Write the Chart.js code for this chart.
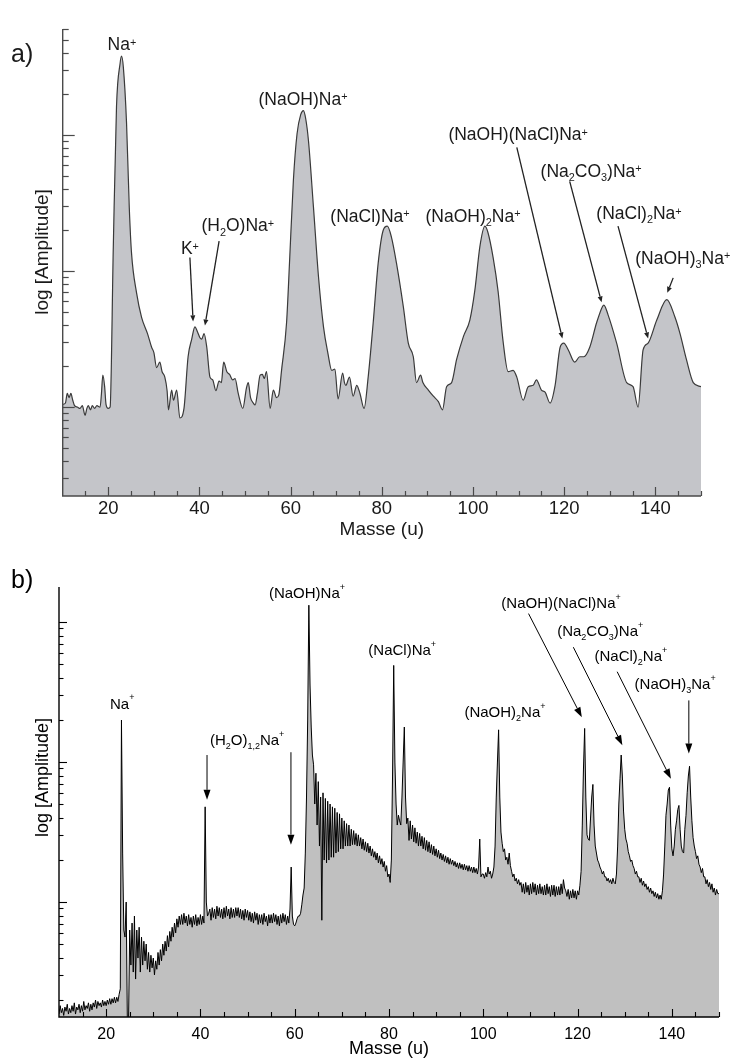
<!DOCTYPE html>
<html>
<head>
<meta charset="utf-8">
<script src="https://cdn.jsdelivr.net/npm/chart.js@4.4.1/dist/chart.umd.min.js"></script>
<style>
  html, body { margin: 0; padding: 0; background: #fff; }
  #wrap { position: relative; width: 737px; height: 1059px; }
  .panel { position: absolute; left: 0; width: 737px; }
  #pa { top: 0; height: 545px; }
  #pb { top: 545px; height: 514px; }
</style>
</head>
<body>
<div id="wrap">
  <div class="panel" id="pa"><canvas id="chartA" width="737" height="545"></canvas></div>
  <div class="panel" id="pb"><canvas id="chartB" width="737" height="514"></canvas></div>
</div>
<script>
// ---------- data ----------
// (a) smoothed mass spectrum: [mass (u), log10 amplitude]
const spectrumA = [
  [10.0,0.02],[10.6,0.03],[11.0,0.10],[11.4,0.07],[11.8,0.10],[12.2,0.05],[12.6,0.01],[13.2,0.00],
  [13.8,-0.01],[14.3,0.01],[14.9,-0.06],[15.3,-0.01],[15.6,0.01],[16.1,-0.02],[16.5,0.01],[17.0,-0.01],
  [17.5,0.01],[18.2,0.00],[18.5,0.10],[18.8,0.235],[19.2,0.15],[19.5,0.02],[20.0,-0.01],[20.4,0.00],
  [21.1,1.18],[21.8,2.21],[22.6,2.53],[22.9,2.58],[23.3,2.50],[24.0,2.09],[24.6,1.47],[25.1,1.13],
  [26.2,0.84],[27.3,0.66],[28.6,0.54],[29.5,0.44],[30.0,0.40],[30.6,0.29],[31.3,0.33],[31.8,0.26],
  [32.4,0.22],[32.9,0.12],[33.2,-0.02],[33.9,0.125],[34.3,0.05],[35.0,0.125],[35.7,-0.08],[36.6,-0.01],
  [37.5,0.37],[38.3,0.50],[39.0,0.59],[39.6,0.55],[40.1,0.51],[40.5,0.50],[41.0,0.54],[41.6,0.44],
  [42.3,0.22],[42.9,0.20],[43.6,0.12],[44.3,0.19],[44.8,0.18],[45.3,0.33],[46.0,0.26],[46.6,0.24],
  [47.3,0.20],[47.8,0.21],[48.5,0.10],[49.5,-0.01],[50.3,0.14],[50.7,0.18],[51.2,0.07],[51.8,0.03],
  [52.2,0.015],[52.7,0.10],[53.3,0.235],[53.8,0.24],[54.2,0.21],[54.7,0.26],[55.5,-0.01],[56.2,0.125],
  [56.9,0.07],[57.4,0.09],[58.0,0.27],[59.1,0.62],[59.8,1.10],[60.6,1.67],[61.4,2.01],[62.2,2.15],
  [62.8,2.18],[63.3,2.12],[63.9,1.96],[65.0,1.47],[66.1,0.96],[67.2,0.59],[68.2,0.39],[69.0,0.27],
  [69.7,0.28],[70.4,0.06],[71.4,0.25],[71.8,0.18],[72.1,0.16],[72.9,0.22],[73.7,0.08],[74.5,0.16],
  [75.2,0.10],[76.1,-0.01],[77.0,0.22],[78.1,0.62],[79.2,1.06],[80.3,1.30],[81.2,1.33],[82.1,1.25],
  [83.2,1.06],[84.7,0.74],[85.8,0.47],[86.9,0.37],[87.6,0.18],[88.5,0.235],[89.0,0.18],[90.2,0.125],
  [91.3,0.08],[92.4,0.04],[93.3,-0.02],[94.2,0.15],[95.3,0.18],[96.4,0.35],[97.9,0.52],[99.3,0.64],
  [100.4,0.86],[101.5,1.18],[102.6,1.33],[103.3,1.28],[104.4,1.10],[105.5,0.85],[106.6,0.48],[107.7,0.26],
  [108.8,0.27],[109.6,0.22],[111.0,0.05],[112.1,0.15],[113.2,0.16],[113.9,0.20],[115.0,0.125],[115.8,0.11],
  [116.9,0.03],[118.0,0.16],[119.1,0.44],[119.9,0.47],[120.9,0.42],[122.3,0.33],[123.4,0.37],[124.3,0.37],
  [125.6,0.44],[127.1,0.62],[128.4,0.74],[128.7,0.75],[129.6,0.68],[131.5,0.47],[133.7,0.18],[135.1,0.15],
  [136.2,0.00],[137.3,0.42],[138.4,0.47],[140.3,0.64],[142.5,0.79],[144.3,0.66],[145.4,0.54],[146.8,0.35],
  [148.3,0.18],[150.0,0.15]
];

// (b) high-resolution spectrum, log10 amplitude sampled every 0.25 u starting at 10 u
const massStartB = 10;
const massStepB = 0.25;
const logAmpB = [
  -0.80,-0.74,-0.79,-0.76,  -0.81,-0.75,-0.78,-0.73,  -0.80,-0.76,-0.79,-0.74,  -0.78,-0.72,-0.80,-0.75, // 10-13
  -0.77,-0.73,-0.79,-0.74,  -0.78,-0.71,-0.77,-0.74,  -0.76,-0.72,-0.78,-0.73,  -0.77,-0.72,-0.75,-0.70, // 14-17
  -0.76,-0.71,-0.74,-0.72,  -0.75,-0.70,-0.74,-0.71,  -0.74,-0.70,-0.73,-0.69,  -0.73,-0.69,-0.72,-0.68, // 18-21
  -0.72,-0.68,-0.71,-0.66,  -0.62,1.30,0.35,-0.20,    -0.25,0.00,-0.85,-0.85,   -0.20,-0.45,-0.15,-0.50, // 22-25
  -0.10,-0.55,-0.20,-0.40,  -0.18,-0.50,-0.25,-0.45,  -0.28,-0.42,-0.30,-0.48,  -0.36,-0.50,-0.38,-0.47, // 26-29
  -0.40,-0.52,-0.42,-0.48,  -0.36,-0.45,-0.34,-0.42,  -0.30,-0.38,-0.28,-0.35,  -0.24,-0.32,-0.21,-0.28, // 30-33
  -0.18,-0.25,-0.15,-0.22,  -0.12,-0.18,-0.10,-0.16,  -0.09,-0.16,-0.08,-0.15,  -0.10,-0.17,-0.09,-0.16, // 34-37
  -0.11,-0.18,-0.10,-0.16,  -0.09,-0.17,-0.11,-0.16,  -0.09,-0.16,-0.10,-0.15,  0.68,0.00,-0.10,-0.08,   // 38-41
  -0.05,-0.13,-0.04,-0.11,  -0.05,-0.12,-0.03,-0.10,  -0.04,-0.11,-0.05,-0.12,  -0.04,-0.11,-0.03,-0.10, // 42-45
  -0.05,-0.12,-0.04,-0.11,  -0.05,-0.11,-0.04,-0.10,  -0.04,-0.11,-0.05,-0.12,  -0.06,-0.13,-0.05,-0.11, // 46-49
  -0.06,-0.13,-0.07,-0.14,  -0.08,-0.15,-0.07,-0.13,  -0.08,-0.16,-0.09,-0.15,  -0.09,-0.16,-0.08,-0.14, // 50-53
  -0.10,-0.17,-0.09,-0.15,  -0.09,-0.15,-0.08,-0.14,  -0.09,-0.16,-0.10,-0.17,  -0.09,-0.15,-0.08,-0.14, // 54-57
  -0.09,-0.16,-0.10,-0.15,  -0.05,0.25,-0.10,-0.16,   -0.17,-0.15,-0.12,-0.10,  -0.10,-0.08,-0.02,0.05,  // 58-61
  0.10,0.35,0.75,1.30,      2.12,1.55,1.25,1.05,      0.98,0.70,0.92,0.55,      0.86,0.40,0.75,-0.13,    // 62-65
  0.78,0.30,0.74,0.28,      0.72,0.30,0.70,0.32,      0.68,0.32,0.67,0.35,      0.64,0.36,0.63,0.38,     // 66-69
  0.60,0.38,0.58,0.40,      0.56,0.40,0.55,0.40,      0.52,0.41,0.51,0.41,      0.49,0.40,0.48,0.40,     // 70-73
  0.46,0.38,0.45,0.37,      0.43,0.36,0.42,0.35,      0.40,0.33,0.38,0.32,      0.36,0.30,0.35,0.28,     // 74-77
  0.33,0.27,0.31,0.25,      0.29,0.22,0.26,0.18,      0.20,0.14,0.30,0.90,      1.69,1.00,0.70,0.55,     // 78-81
  0.62,0.58,0.55,0.75,      1.00,1.25,0.75,0.56,      0.60,0.44,0.58,0.45,      0.55,0.43,0.53,0.42,     // 82-85
  0.50,0.40,0.49,0.40,      0.47,0.38,0.46,0.37,      0.44,0.36,0.43,0.35,      0.41,0.34,0.40,0.33,     // 86-89
  0.38,0.32,0.37,0.31,      0.35,0.30,0.34,0.29,      0.33,0.28,0.32,0.27,      0.31,0.27,0.30,0.26,     // 90-93
  0.29,0.25,0.28,0.24,      0.28,0.24,0.27,0.23,      0.27,0.23,0.26,0.22,      0.26,0.22,0.25,0.21,     // 94-97
  0.25,0.21,0.24,0.20,      0.25,0.45,0.18,0.20,      0.20,0.17,0.21,0.18,      0.25,0.20,0.22,0.17,     // 98-101
  0.20,0.25,0.40,0.75,      1.00,1.23,0.75,0.50,      0.42,0.36,0.38,0.30,      0.32,0.27,0.35,0.26,     // 102-105
  0.22,0.18,0.20,0.15,      0.17,0.13,0.16,0.12,      0.14,0.07,0.13,0.06,      0.14,0.07,0.12,0.05,     // 106-109
  0.13,0.06,0.14,0.07,      0.13,0.05,0.12,0.06,      0.13,0.06,0.11,0.05,      0.12,0.05,0.13,0.06,     // 110-113
  0.11,0.04,0.12,0.05,      0.12,0.04,0.11,0.05,      0.11,0.05,0.13,0.06,      0.16,0.10,0.08,0.04,     // 114-117
  0.09,0.02,0.08,0.03,      0.09,0.03,0.08,0.02,      0.08,0.05,0.12,0.22,      0.55,0.95,1.24,0.75,     // 118-121
  0.48,0.45,0.44,0.60,      0.75,0.84,0.55,0.40,      0.35,0.30,0.28,0.25,      0.23,0.20,0.22,0.18,     // 122-125
  0.18,0.15,0.17,0.14,      0.16,0.13,0.17,0.14,      0.13,0.20,0.40,0.70,      0.88,1.05,0.90,0.65,     // 126-129
  0.52,0.45,0.42,0.36,      0.33,0.29,0.30,0.26,      0.24,0.20,0.22,0.18,      0.18,0.14,0.17,0.12,     // 130-133
  0.15,0.11,0.13,0.09,      0.11,0.07,0.10,0.06,      0.08,0.04,0.07,0.03,      0.06,0.02,0.05,0.02,     // 134-137
  0.08,0.20,0.40,0.62,      0.70,0.80,0.82,0.55,      0.38,0.33,0.40,0.52,      0.58,0.66,0.69,0.52,     // 138-141
  0.40,0.36,0.35,0.52,      0.62,0.78,0.90,0.97,      0.75,0.58,0.46,0.40,      0.36,0.31,0.33,0.27,     // 142-145
  0.25,0.21,0.24,0.18,      0.18,0.13,0.16,0.11,      0.14,0.09,0.13,0.07,      0.10,0.05,0.09,0.06,     // 146-149
  0.06                                                                                                   // 150
];

// axis ticks
const massTicks = [20, 40, 60, 80, 100, 120, 140];
const massMinorTicks = [15, 25, 30, 35, 45, 50, 55, 65, 70, 75, 85, 90, 95, 105, 110, 115, 125, 130, 135, 145, 150];
const amplitudeTicks = [0.2, 0.3, 0.4, 0.5, 0.6, 0.7, 0.8, 0.9, 1, 2, 3, 4, 5, 6, 7, 8, 9,
                        10, 20, 30, 40, 50, 60, 70, 80, 90, 100, 200, 300, 400, 500, 600];

// peak assignments (_x = subscript, ^x = superscript)
const peakLabelsA = ['Na^+', 'K^+', '(H_2O)Na^+', '(NaOH)Na^+', '(NaCl)Na^+', '(NaOH)_2Na^+',
                     '(NaOH)(NaCl)Na^+', '(Na_2CO_3)Na^+', '(NaCl)_2Na^+', '(NaOH)_3Na^+'];
const peakLabelsB = ['Na^+', '(H_2O)_{1,2}Na^+', '(NaOH)Na^+', '(NaCl)Na^+', '(NaOH)_2Na^+',
                     '(NaOH)(NaCl)Na^+', '(Na_2CO_3)Na^+', '(NaCl)_2Na^+', '(NaOH)_3Na^+'];

// ---------- layout (label anchors and arrows in data coordinates) ----------
const labelAnchorsA = [[23.0,2.67],[37.9,1.17],[48.4,1.34],[62.7,2.27],[77.4,1.41],[100.0,1.41],
                       [109.9,2.01],[125.9,1.74],[136.4,1.43],[146.0,1.10]];
const arrowsA = [[[37.9,1.10],[38.6,0.63]], [[44.3,1.22],[41.2,0.60]], [[109.6,1.91],[119.6,0.505]],
                 [[121.2,1.66],[128.2,0.77]], [[131.8,1.33],[138.4,0.505]], [[143.9,0.95],[142.6,0.84]]];
const labelAnchorsB = [[23.4,1.42],[49.9,1.16],[62.6,2.21],[82.8,1.80],[104.6,1.36],
                       [116.5,2.14],[124.8,1.94],[131.3,1.76],[140.7,1.56]];
const arrowsB = [[[41.4,1.05],[41.4,0.73]], [[59.2,1.07],[59.2,0.41]], [[109.6,2.06],[120.9,1.32]],
                 [[119.1,1.82],[129.5,1.12]], [[128.4,1.645],[139.8,0.88]], [[143.6,1.44],[143.6,1.06]]];

const FONT = '"Liberation Sans", Arial, Helvetica, sans-serif';

// ---------- drawing helpers ----------
function parseRich(s) {
  const segs = []; let buf = ''; let i = 0;
  const flush = () => { if (buf) { segs.push({ t: buf, m: 0 }); buf = ''; } };
  while (i < s.length) {
    const c = s[i];
    if (c === '_' || c === '^') {
      flush();
      let t;
      if (s[i + 1] === '{') { const j = s.indexOf('}', i); t = s.slice(i + 2, j); i = j + 1; }
      else { t = s[i + 1]; i += 2; }
      segs.push({ t, m: c === '_' ? 1 : 2 });
    } else { buf += c; i++; }
  }
  flush();
  return segs;
}

function drawRich(ctx, str, cx, cy, st) {
  const segs = parseRich(str);
  const small = st.size * st.smallScale;
  let w = 0;
  for (const g of segs) {
    ctx.font = `${g.m ? small : st.size}px ${FONT}`;
    g.w = ctx.measureText(g.t).width;
    w += g.w;
  }
  let x = cx - w / 2;
  const base = cy + st.size * 0.36;
  ctx.textAlign = 'left';
  ctx.textBaseline = 'alphabetic';
  ctx.fillStyle = st.color;
  for (const g of segs) {
    ctx.font = `${g.m ? small : st.size}px ${FONT}`;
    const y = g.m === 1 ? base + st.subDrop * st.size : g.m === 2 ? base - st.supRise * st.size : base;
    ctx.fillText(g.t, x, y);
    x += g.w;
  }
}

function drawArrow(ctx, x1, y1, x2, y2, st) {
  const a = Math.atan2(y2 - y1, x2 - x1);
  const bx = x2 - st.head * Math.cos(a), by = y2 - st.head * Math.sin(a);
  ctx.strokeStyle = st.color; ctx.fillStyle = st.color; ctx.lineWidth = st.width;
  ctx.beginPath(); ctx.moveTo(x1, y1); ctx.lineTo(bx, by); ctx.stroke();
  ctx.beginPath();
  ctx.moveTo(x2, y2);
  ctx.lineTo(bx + st.half * Math.sin(a), by - st.half * Math.cos(a));
  ctx.lineTo(bx - st.half * Math.sin(a), by + st.half * Math.cos(a));
  ctx.closePath(); ctx.fill();
}

// axes with inward ticks, tick labels, titles and peak annotations
function makeFrame(cfg) {
  return {
    id: 'spectrumFrame',
    afterDraw(chart) {
      const { ctx, chartArea: ca, scales } = chart;
      const xs = scales.x, ys = scales.y;
      ctx.save();
      ctx.lineCap = 'butt';
      ctx.strokeStyle = cfg.axisColor;
      ctx.lineWidth = cfg.axisWidth;
      ctx.beginPath();
      ctx.moveTo(ca.left, ca.top); ctx.lineTo(ca.left, ca.bottom); ctx.lineTo(ca.right, ca.bottom);
      ctx.stroke();

      ctx.lineWidth = cfg.tickWidth;
      const tick = (x1, y1, x2, y2) => { ctx.beginPath(); ctx.moveTo(x1, y1); ctx.lineTo(x2, y2); ctx.stroke(); };
      for (const v of massTicks) { const p = Math.round(xs.getPixelForValue(v)) + 0.5; tick(p, ca.bottom, p, ca.bottom - cfg.xMajorLen); }
      for (const v of massMinorTicks) { const p = Math.round(xs.getPixelForValue(v)) + 0.5; tick(p, ca.bottom, p, ca.bottom - cfg.xMinorLen); }
      for (const a of amplitudeTicks) {
        const L = Math.log10(a);
        if (L < ys.min - 1e-9 || L > ys.max + 1e-9) continue;
        const major = Math.abs(L - Math.round(L)) < 1e-9;
        const p = Math.round(ys.getPixelForValue(L)) + 0.5;
        tick(ca.left, p, ca.left + (major ? cfg.yMajorLen : cfg.yMinorLen), p);
      }

      ctx.fillStyle = cfg.textColor;
      ctx.textAlign = 'center';
      ctx.textBaseline = 'middle';
      ctx.font = `${cfg.tickFont}px ${FONT}`;
      for (const v of massTicks) ctx.fillText(String(v), xs.getPixelForValue(v), ca.bottom + cfg.tickLabelOffset);

      ctx.font = `${cfg.titleFont}px ${FONT}`;
      ctx.fillText('Masse (u)', (ca.left + ca.right) / 2, cfg.xTitleY);
      ctx.save();
      ctx.translate(cfg.yTitleX, cfg.yTitleY);
      ctx.rotate(-Math.PI / 2);
      ctx.fillText('log [Amplitude]', 0, 0);
      ctx.restore();

      ctx.font = `${cfg.tagFont}px ${FONT}`;
      ctx.textAlign = 'left';
      ctx.fillText(cfg.tag, cfg.tagX, cfg.tagY);

      cfg.labels.forEach((s, i) => {
        const [m, l] = cfg.anchors[i];
        drawRich(ctx, s, xs.getPixelForValue(m), ys.getPixelForValue(l), cfg.labelStyle);
      });
      for (const [[m1, l1], [m2, l2]] of cfg.arrows) {
        drawArrow(ctx, xs.getPixelForValue(m1), ys.getPixelForValue(l1),
                  xs.getPixelForValue(m2), ys.getPixelForValue(l2), cfg.arrowStyle);
      }
      ctx.restore();
    }
  };
}

function makeChart(id, points, cfg) {
  return new Chart(document.getElementById(id), {
    type: 'line',
    data: {
      datasets: [{
        data: points,
        borderColor: cfg.lineColor,
        backgroundColor: cfg.fillColor,
        borderWidth: cfg.lineWidth,
        fill: 'start',
        pointRadius: 0,
        tension: cfg.smooth ? 0.4 : 0,
        cubicInterpolationMode: cfg.smooth ? 'monotone' : 'default'
      }]
    },
    options: {
      responsive: false,
      animation: false,
      events: [],
      layout: { padding: cfg.padding },
      scales: {
        x: { type: 'linear', min: 10, max: 150, display: false },
        y: { type: 'linear', min: cfg.yMin, max: cfg.yMax, display: false }
      },
      plugins: { legend: { display: false }, tooltip: { enabled: false } }
    },
    plugins: [makeFrame(cfg)]
  });
}

// ---------- panel a ----------
makeChart('chartA', spectrumA.map(([m, l]) => ({ x: m, y: l })), {
  padding: { left: 62.7, right: 36, top: 29, bottom: 49 },
  yMin: -0.654, yMax: 2.78,
  smooth: true,
  lineColor: '#3a3a3a', lineWidth: 1.2, fillColor: '#c4c5c9',
  axisColor: '#4a4a4a', axisWidth: 1.4, tickWidth: 1.2,
  xMajorLen: 9, xMinorLen: 5, yMajorLen: 12, yMinorLen: 6,
  textColor: '#1a1a1a', tickFont: 18.5, tickLabelOffset: 12.5,
  titleFont: 19, xTitleY: 530, yTitleX: 42.5, yTitleY: 252,
  tag: 'a)', tagFont: 25, tagX: 11, tagY: 55,
  labels: peakLabelsA, anchors: labelAnchorsA, arrows: arrowsA,
  labelStyle: { size: 17.5, smallScale: 0.62, supRise: 0.25, subDrop: 0.25, color: '#1a1a1a' },
  arrowStyle: { color: '#222', width: 1.3, head: 6, half: 2.5 }
});

// ---------- panel b ----------
makeChart('chartB', logAmpB.map((l, i) => ({ x: massStartB + i * massStepB, y: l })), {
  padding: { left: 59, right: 18, top: 42, bottom: 42 },
  yMin: -0.821, yMax: 2.25,
  smooth: false,
  lineColor: '#000', lineWidth: 1, fillColor: '#c0c0c0',
  axisColor: '#000', axisWidth: 1.4, tickWidth: 1.1,
  xMajorLen: 8, xMinorLen: 5, yMajorLen: 8, yMinorLen: 4.5,
  textColor: '#000', tickFont: 16, tickLabelOffset: 17.5,
  titleFont: 18, xTitleY: 504, yTitleX: 43.5, yTitleY: 232.5,
  tag: 'b)', tagFont: 25, tagX: 11, tagY: 36,
  labels: peakLabelsB, anchors: labelAnchorsB, arrows: arrowsB,
  labelStyle: { size: 15, smallScale: 0.6, supRise: 0.55, subDrop: 0.28, color: '#000' },
  arrowStyle: { color: '#000', width: 1, head: 10, half: 3.5 }
});
</script>
</body>
</html>
